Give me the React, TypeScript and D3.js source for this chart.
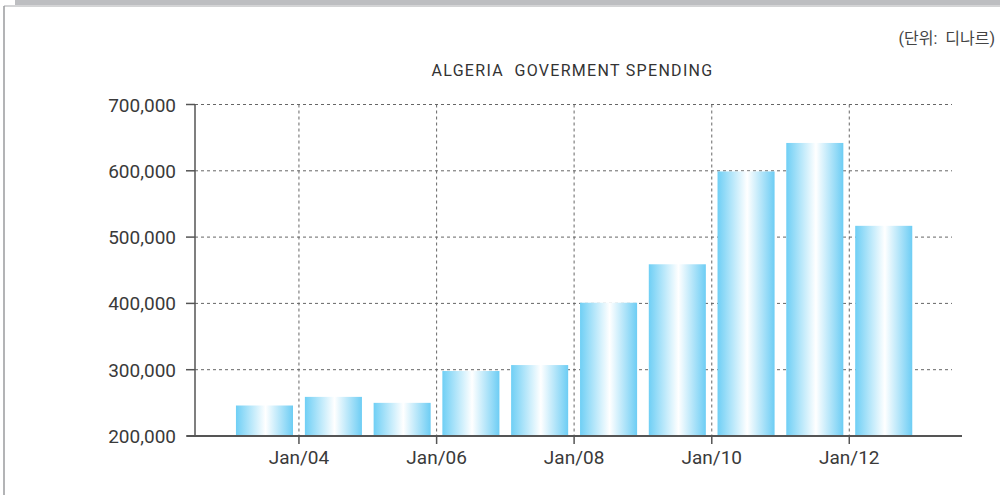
import React from "react";
import * as d3 from "d3";

const years = [2003, 2004, 2005, 2006, 2007, 2008, 2009, 2010, 2011, 2012];
const spending = [246000, 259000, 250000, 298000, 307000, 401000, 459000, 599000, 642000, 517000];
const yTicks = [200000, 300000, 400000, 500000, 600000, 700000];
const xTickYears = [2004, 2006, 2008, 2010, 2012];
const title = "ALGERIA  GOVERMENT SPENDING";
const unitLabel = "(단위:  디나르)";

const W = 1002;
const H = 495;
const FONT = "Roboto, 'Noto Sans CJK KR', sans-serif";

export default function App() {
  const x = d3
    .scaleTime()
    .domain([new Date(2003, 0, 1), new Date(2013, 0, 1)])
    .range([230.2, 918.2]);
  const y = d3.scaleLinear().domain([200000, 700000]).range([436, 104.5]);
  const fmt = d3.format(",");
  const tfmt = d3.timeFormat("%b/%y");
  const axisX = 195;
  const gridRight = 952;
  const axisRight = 962;
  const yearW = x(new Date(2004, 0, 1)) - x(new Date(2003, 0, 1));
  const barW = yearW * 0.83;

  return (
    <svg width={W} height={H} style={{ position: "absolute", left: 0, top: 0 }} fontFamily={FONT}>
      <defs>
        <linearGradient id="barGrad" x1="0" x2="1" y1="0" y2="0">
          <stop offset="0%" stopColor="#6fcff5" />
          <stop offset="52%" stopColor="#ffffff" />
          <stop offset="100%" stopColor="#6dcdf4" />
        </linearGradient>
      </defs>
      <rect x={0} y={0} width={W} height={H} fill="#fff" />
      {/* top band and frame */}
      <rect x={15} y={0} width={985} height={5} fill="#bdbec1" />
      <line x1={4} x2={1000} y1={6} y2={6} stroke="#a8a9ac" strokeWidth={1} />
      <line x1={4} x2={4} y1={6} y2={H} stroke="#9a9b9e" strokeWidth={1.5} />

      <text x={995} y={44} textAnchor="end" fontSize={16} fill="#444" style={{ whiteSpace: "pre" }}>{unitLabel}</text>
      <text x={572.5} y={76} textAnchor="middle" fontSize={16} letterSpacing={1.3} fill="#333" style={{ whiteSpace: "pre" }}>{title}</text>

      {/* horizontal grid */}
      {yTicks.slice(1).map((t) => (
        <line key={"hg" + t} x1={axisX} x2={gridRight} y1={y(t)} y2={y(t)} stroke="#666" strokeDasharray="3,3" strokeWidth={1} />
      ))}
      {/* vertical grid */}
      {xTickYears.map((yr) => {
        const xx = x(new Date(yr, 0, 1));
        return <line key={"vg" + yr} x1={xx} x2={xx} y1={y(700000)} y2={y(200000)} stroke="#666" strokeDasharray="3,3" strokeWidth={1} />;
      })}

      {/* bars */}
      {years.map((yr, i) => {
        const cx = x(new Date(yr, 6, 2));
        return (
          <rect key={"b" + yr} x={cx - barW / 2} y={y(spending[i])} width={barW} height={y(200000) - y(spending[i])} fill="url(#barGrad)" />
        );
      })}

      {/* y axis */}
      <line x1={axisX} x2={axisX} y1={y(700000)} y2={y(200000)} stroke="#555" strokeWidth={1.5} />
      {yTicks.map((t) => (
        <g key={"yt" + t}>
          <line x1={186} x2={axisX} y1={y(t)} y2={y(t)} stroke="#555" strokeWidth={1.5} />
          <text x={176} y={y(t)} dy="0.37em" textAnchor="end" fontSize={19} fill="#3a3a3a">{fmt(t)}</text>
        </g>
      ))}

      {/* x axis */}
      <line x1={187} x2={axisRight} y1={y(200000)} y2={y(200000)} stroke="#555" strokeWidth={2} />
      {xTickYears.map((yr) => {
        const d = new Date(yr, 0, 1);
        const xx = x(d);
        return (
          <g key={"xt" + yr}>
            <line x1={xx} x2={xx} y1={436} y2={444} stroke="#555" strokeWidth={1.5} />
            <text x={xx} y={463.5} textAnchor="middle" fontSize={19} fill="#3a3a3a">{tfmt(d)}</text>
          </g>
        );
      })}
    </svg>
  );
}
